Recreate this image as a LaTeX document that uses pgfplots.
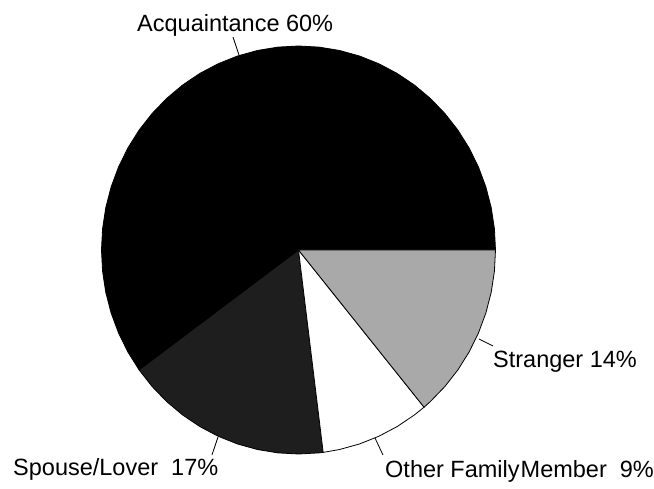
\documentclass[border=0pt]{standalone}
\usepackage{pgfplots}
\pgfplotsset{compat=1.18}
\usepgfplotslibrary{polar}
\usepackage{fontspec}
\setmainfont{Liberation Sans}
\definecolor{spouse}{HTML}{1E1E1E}
\definecolor{stranger}{HTML}{A9A9A9}
\begin{document}
\begin{tikzpicture}
\begin{axis}[scale only axis, width=654bp, height=489bp,
  xmin=-1.5152, xmax=1.8046, ymin=-1.1716, ymax=1.2255,
  hide axis, clip=false]
\path (rel axis cs:0,0) rectangle (rel axis cs:1,1);
% Shares: Acquaintance 60%, Spouse/Lover 17%, Other Family Member 9%, Stranger 14%
% Acquaintance 60% -> 0 to 216 degrees
\addplot[data cs=polar, fill=black, draw=black, line width=0.8bp] coordinates {
(0,0) (0,1) (6,1) (12,1) (18,1) (24,1) (30,1) (36,1) (42,1) (48,1) (54,1) (60,1) (66,1)
(72,1) (78,1) (84,1) (90,1) (96,1) (102,1) (108,1) (114,1) (120,1) (126,1) (132,1)
(138,1) (144,1) (150,1) (156,1) (162,1) (168,1) (174,1) (180,1) (186,1) (192,1)
(198,1) (204,1) (210,1) (216,1) (0,0)};
% Spouse/Lover 17% -> 216 to 277.2 degrees
\addplot[data cs=polar, fill=spouse, draw=black, line width=0.8bp] coordinates {
(0,0) (216,1) (222,1) (228,1) (234,1) (240,1) (246,1) (252,1) (258,1) (264,1) (270,1)
(276,1) (277.2,1) (0,0)};
% Other Family Member 9% -> 277.2 to 309.6 degrees
\addplot[data cs=polar, fill=white, draw=black, line width=0.8bp] coordinates {
(0,0) (277.2,1) (282,1) (288,1) (294,1) (300,1) (306,1) (309.6,1) (0,0)};
% Stranger 14% -> 309.6 to 360 degrees
\addplot[data cs=polar, fill=stranger, draw=black, line width=0.8bp] coordinates {
(0,0) (309.6,1) (312,1) (318,1) (324,1) (330,1) (336,1) (342,1) (348,1) (354,1) (360,1) (0,0)};
% leader lines
\addplot[black, line width=0.8bp] coordinates {(-0.3325,1.0441) (-0.3020,0.9559)};
\addplot[black, line width=0.8bp] coordinates {(0.9162,-0.4363) (0.9873,-0.4706)};
\addplot[black, line width=0.8bp] coordinates {(0.3883,-0.9216) (0.4289,-1.0049)};
\addplot[black, line width=0.8bp] coordinates {(-0.4086,-0.9167) (-0.4391,-1.0049)};
% labels
\tikzset{lab/.style={anchor=base west, inner sep=0pt, font=\fontsize{23.5bp}{28bp}\selectfont}}
\node[lab] at (axis cs:-0.8198,1.0735) {Acquaintance 60\%};
\node[lab] at (axis cs:0.9873,-0.5784) {Stranger 14\%};
\node[lab] at (axis cs:0.4391,-1.1176) {Other Family\hspace{1bp}Member\ \ 9\%};
\node[lab] at (axis cs:-1.4492,-1.1078) {Spouse/Lover\ \ 17\%};
\end{axis}
\end{tikzpicture}
\end{document}
